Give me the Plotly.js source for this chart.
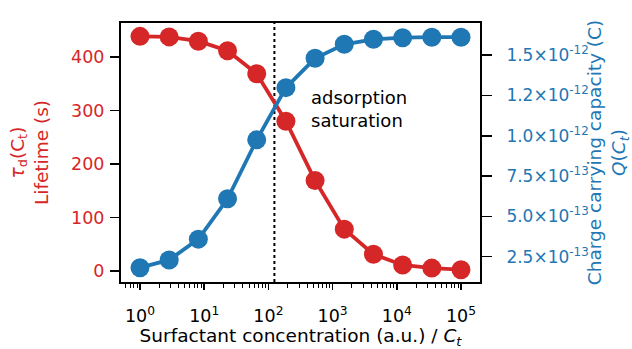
<!DOCTYPE html>
<html>
<head>
<meta charset="utf-8">
<script src="https://cdn.plot.ly/plotly-3.0.1.min.js"></script>
<style>html,body{margin:0;padding:0;background:#fff}#chart{width:632px;height:349px}</style>
</head>
<body>
<div id="chart"></div>
<script>
const concentration = [1, 2.848, 8.111, 23.10, 65.79, 187.4, 533.7, 1520, 4329, 12328, 35112, 100000];
const lifetime = [439, 438, 430, 412, 369, 280, 169, 78, 31, 11, 5, 2];
const charge = [1.82e-13, 2.30e-13, 3.59e-13, 6.09e-13, 9.75e-13, 1.299e-12, 1.481e-12, 1.568e-12, 1.599e-12, 1.609e-12, 1.612e-12, 1.612e-12];
const saturationX = [124, 124];
const xTickVals = [1, 10, 100, 1000, 10000, 100000];
const xTickText = ['10<sup>0</sup>', '10<sup>1</sup>', '10<sup>2</sup>', '10<sup>3</sup>', '10<sup>4</sup>', '10<sup>5</sup>'];
const yTickVals = [0, 100, 200, 300, 400];
const y2TickVals = [2.5e-13, 5.0e-13, 7.5e-13, 1.0e-12, 1.25e-12, 1.5e-12];
const y2TickText = ['2.5×10<sup>-13</sup>', '5.0×10<sup>-13</sup>', '7.5×10<sup>-13</sup>', '1.0×10<sup>-12</sup>', '1.2×10<sup>-12</sup>', '1.5×10<sup>-12</sup>'];

const red = '#d62728', blue = '#1f77b4';
const font = 'DejaVu Sans, sans-serif';

const traces = [
  {x: saturationX, y: [-21, 464], mode: 'lines', line: {color: 'black', width: 2, dash: 'dot'}, yaxis: 'y', hoverinfo: 'skip', showlegend: false},
  {x: concentration, y: lifetime, mode: 'lines+markers', line: {color: red, width: 3.8}, marker: {color: red, size: 19}, yaxis: 'y', showlegend: false},
  {x: concentration, y: charge, mode: 'lines+markers', line: {color: blue, width: 3.8}, marker: {color: blue, size: 19}, yaxis: 'y2', showlegend: false}
];

const layout = {
  width: 632, height: 349,
  margin: {l: 121, r: 152, t: 23, b: 67},
  paper_bgcolor: 'white', plot_bgcolor: 'white',
  font: {family: font, size: 17, color: 'black'},
  xaxis: {
    type: 'log', range: [-0.296, 5.296],
    tickvals: xTickVals, ticktext: xTickText,
    ticks: 'outside', ticklen: 6, tickwidth: 1.5, tickcolor: 'black',
    minor: {ticks: 'outside', ticklen: 3.5, tickwidth: 1, tickcolor: 'black', dtick: 'D1', showgrid: false},
    showgrid: false, zeroline: false,
    showline: true, linecolor: 'black', linewidth: 2, mirror: true,
    tickfont: {size: 17.5, color: 'black'},
    ticklabelstandoff: 11,
    title: {text: 'Surfactant concentration (a.u.) / <i>C<sub>t</sub></i>', font: {size: 18.5, color: 'black'}, standoff: 11}
  },
  yaxis: {
    range: [-21, 464],
    tickvals: yTickVals,
    ticks: 'outside', ticklen: 9, tickwidth: 1.5, tickcolor: 'black',
    showgrid: false, zeroline: false,
    showline: true, linecolor: 'black', linewidth: 2,
    tickfont: {size: 17.5, color: red},
    ticklabelstandoff: 2,
    title: {text: '<i>τ</i><sub>d</sub>(C<sub>t</sub>)<br>Lifetime (s)', font: {size: 18.5, color: red}, standoff: 18}
  },
  yaxis2: {
    overlaying: 'y', side: 'right',
    range: [0.93e-13, 1.70e-12],
    tickvals: y2TickVals, ticktext: y2TickText,
    ticks: 'outside', ticklen: 10, tickwidth: 1.5, tickcolor: 'black',
    showgrid: false, zeroline: false,
    showline: true, linecolor: 'black', linewidth: 2,
    tickfont: {size: 17, color: blue},
    ticklabelstandoff: 11,
    title: {text: 'Charge carrying capacity (C)<br><i>Q</i>(<i>C<sub>t</sub></i>)', font: {size: 18.5, color: blue}, standoff: 4}
  },
  annotations: [
    {x: Math.log10(432), y: 0.668, xref: 'x', yref: 'paper', xanchor: 'left', yanchor: 'middle', showarrow: false, align: 'left',
     text: 'adsorption<br>saturation', font: {size: 18, color: 'black'}}
  ]
};

Plotly.newPlot('chart', traces, layout, {displayModeBar: false, staticPlot: true});
</script>
</body>
</html>
